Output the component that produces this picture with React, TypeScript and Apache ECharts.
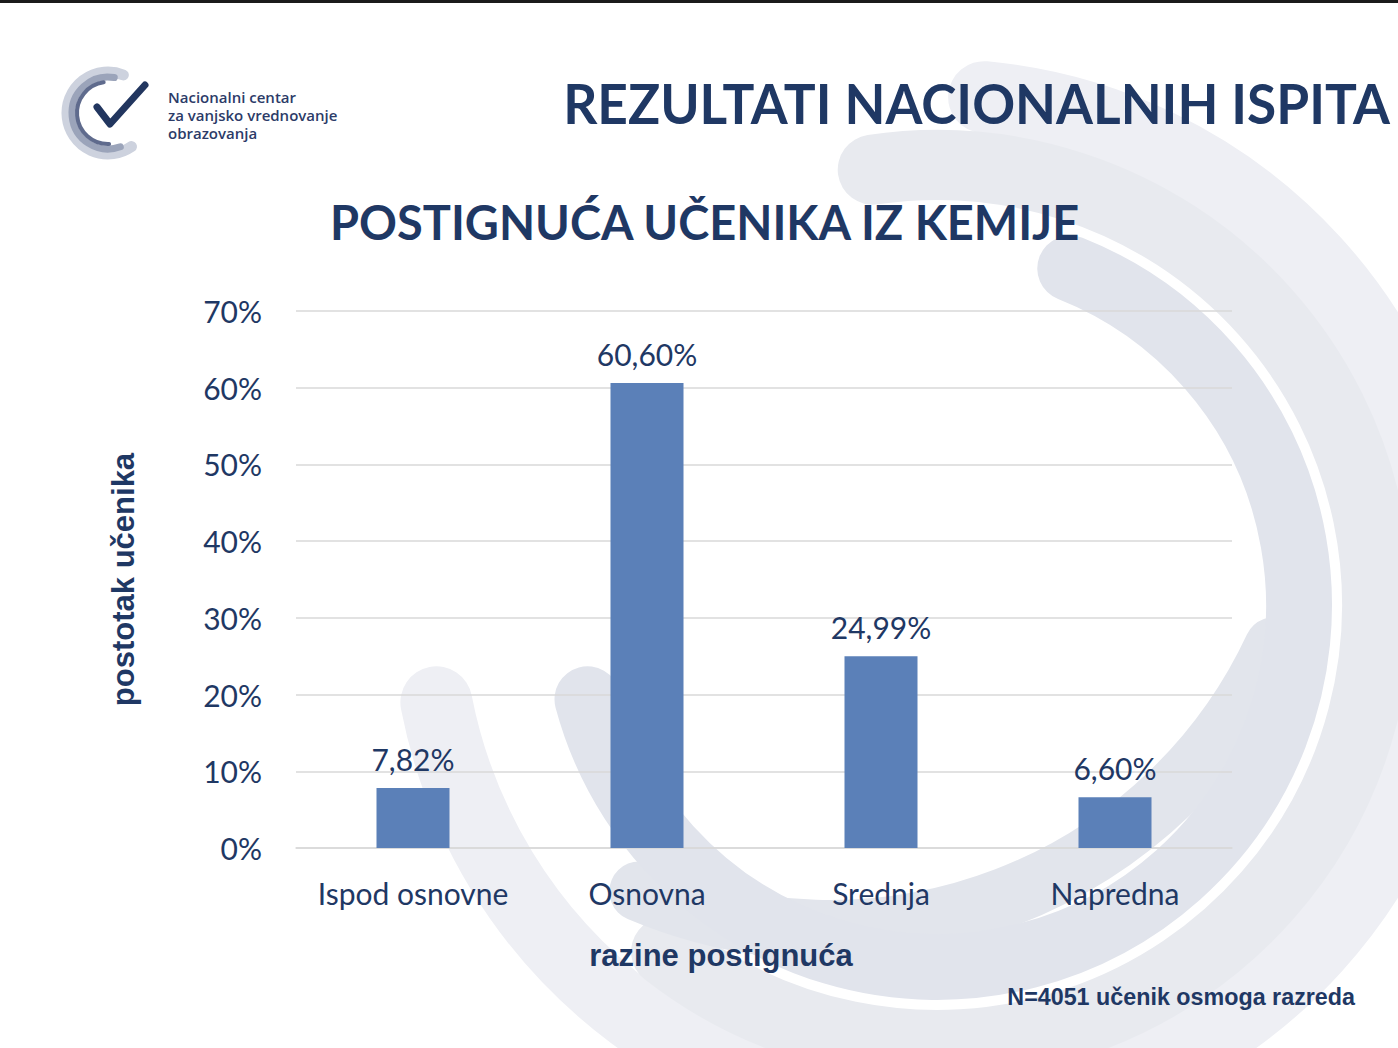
import React, { useEffect, useRef } from "react";
import * as echarts from "echarts";

const categories = ["Ispod osnovne", "Osnovna", "Srednja", "Napredna"];
const values = [7.82, 60.6, 24.99, 6.6];
const yMin = 0;
const yMax = 70;
const yStep = 10;
const title = "REZULTATI NACIONALNIH ISPITA";
const subtitle = "POSTIGNUĆA UČENIKA IZ KEMIJE";
const xAxisName = "razine postignuća";
const yAxisName = "postotak učenika";
const footnote = "N=4051 učenik osmoga razreda";
const logoLines = ["Nacionalni centar", "za vanjsko vrednovanje", "obrazovanja"];

const NAVY = "#1f3864";
const rad = (d: number) => (d * Math.PI) / 180;

function arc(cx: number, cy: number, r: number, a0: number, a1: number, color: string, lw: number, z = 0) {
  return {
    type: "arc",
    z,
    silent: true,
    shape: { cx, cy, r, startAngle: rad(a0), endAngle: rad(a1), clockwise: true },
    style: { stroke: color, lineWidth: lw, fill: null, lineCap: "round" },
  };
}

function text(x: number, y: number, t: string, font: any, align = "left", scaleX = 1) {
  return {
    type: "text",
    z: 10,
    x,
    y,
    scaleX,
    style: {
      text: t,
      fill: font.color || NAVY,
      fontSize: font.size,
      fontFamily: font.family,
      fontWeight: font.weight || "normal",
      lineHeight: font.lineHeight,
      textAlign: align,
      textVerticalAlign: "middle",
      align,
      verticalAlign: "middle",
    },
  };
}

export default function App() {
  const ref = useRef<HTMLDivElement>(null);
  useEffect(() => {
    if (!ref.current) return;
    const chart = echarts.init(ref.current, undefined, { renderer: "svg" });
    const graphics: any[] = [
      // top black bar
      { type: "rect", z: 0, shape: { x: 0, y: 0, width: 1398, height: 3 }, style: { fill: "#1b1b1b" } },
      // background decorative arcs
      arc(937, 605, 510, -84.7, 169, "#eeeff4", 72),
      arc(937, 605, 440, -98.4, 128, "#e8eaef", 70),
      arc(830, 440, 490, 25, 112.9, "#e2e5ec", 60),
      arc(937, 605, 362, -68.4, 164.9, "#e1e4ec", 66),
      // logo arcs
      arc(108, 113, 41, 55, 292, "#cdd2de", 11, 5),
      arc(108, 113, 36, 70, 280, "#9ba4ba", 7, 6),
      arc(108, 113, 31, 88, 262, "#5f6b8d", 4, 7),
      {
        type: "polyline",
        z: 8,
        shape: { points: [[97, 107], [110, 124], [145, 85]] },
        style: { stroke: "#22365f", lineWidth: 7, fill: null, lineCap: "round", lineJoin: "round" },
      },
      text(168, 115, logoLines.join("\n"), {
        size: 15,
        lineHeight: 18,
        family: "Open Sans",
        weight: 600,
        color: "#2c3b68",
      }),
      text(1390, 103, title, { size: 55, family: "Lato", weight: "bold" }, "right", 0.967),
      text(330, 221, subtitle, { size: 48, family: "Lato", weight: "bold" }, "left", 0.978),
      text(1355, 997, footnote, { size: 23.3, family: "Liberation Sans", weight: "bold" }, "right"),
    ];

    chart.setOption({
      animation: false,
      backgroundColor: "#ffffff",
      graphic: graphics,
      grid: { left: 296, right: 166, top: 311, bottom: 200, containLabel: false },
      xAxis: {
        type: "category",
        data: categories,
        z: 5,
        axisLine: { show: true, lineStyle: { color: "#d9d9d9", width: 1.5 } },
        axisTick: { show: false },
        axisLabel: { color: NAVY, fontFamily: "Lato", fontSize: 30, margin: 30, interval: 0 },
        name: xAxisName,
        nameLocation: "middle",
        nameGap: 92,
        nameTextStyle: {
          color: NAVY,
          fontFamily: "Liberation Sans",
          fontWeight: "bold",
          fontSize: 31,
          padding: [0, 86, 0, 0],
        },
      },
      yAxis: {
        type: "value",
        min: yMin,
        max: yMax,
        interval: yStep,
        z: 5,
        axisLine: { show: false },
        axisTick: { show: false },
        splitLine: { show: true, lineStyle: { color: "#d9d9d9", width: 1.5 } },
        axisLabel: { color: NAVY, fontFamily: "Lato", fontSize: 30, margin: 34, formatter: "{value}%" },
        name: yAxisName,
        nameLocation: "middle",
        nameGap: 157,
        nameRotate: 90,
        nameTextStyle: { color: NAVY, fontFamily: "Liberation Sans", fontWeight: "bold", fontSize: 31 },
      },
      series: [
        {
          type: "bar",
          z: 6,
          data: values,
          barWidth: 73,
          itemStyle: { color: "#5b80b8" },
          label: {
            show: true,
            position: "top",
            distance: 14,
            color: NAVY,
            fontFamily: "Lato",
            fontSize: 30,
            formatter: (p: any) => p.value.toFixed(2).replace(".", ",") + "%",
          },
        },
      ],
    });
    return () => chart.dispose();
  }, []);
  return (
    <div
      ref={ref}
      style={{ position: "absolute", left: 0, top: 0, width: 1398, height: 1048, background: "#ffffff" }}
    />
  );
}
